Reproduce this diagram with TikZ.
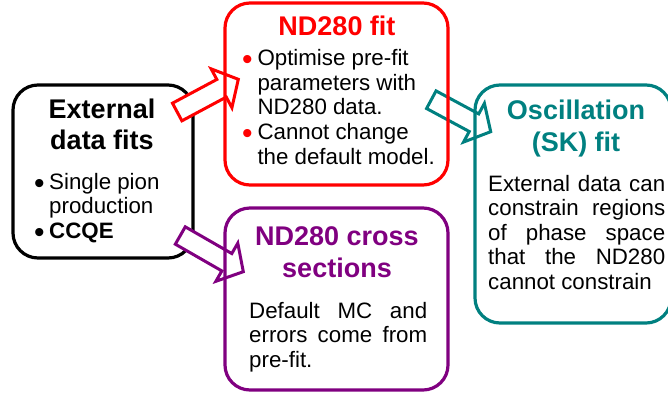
\documentclass[tikz,border=0pt]{standalone}
\usepackage{fontspec}
\setmainfont{Liberation Sans}
\usetikzlibrary{calc}
\definecolor{tealc}{RGB}{0,128,128}
\definecolor{purc}{RGB}{128,0,128}
\definecolor{redc}{RGB}{255,0,0}
\newcommand\hfnt{\fontsize{27}{31.5}\selectfont\bfseries}
\newcommand\bfnt{\fontsize{22.3}{24.5}\selectfont}
\newcommand\bulfnt{\fontsize{30}{30}\selectfont}
% block arrow from tail #2 to tip #3
\newcommand\blockarrow[3]{%
  \draw[barr=#1] ($(#2)!10pt!90:(#3)$)
    -- ($(#3)!19pt!(#2)!10pt!-90:(#2)$)
    -- ($(#3)!19pt!(#2)!22pt!-90:(#2)$)
    -- (#3)
    -- ($(#3)!19pt!(#2)!22pt!90:(#2)$)
    -- ($(#3)!19pt!(#2)!10pt!90:(#2)$)
    -- ($(#2)!10pt!-90:(#3)$) -- cycle;}
\begin{document}
\begin{tikzpicture}[x=1pt,y=-1pt,
  bx/.style={draw=#1, line width=3.2pt, rounded corners=25pt, inner sep=0pt},
  barr/.style={draw=#1, fill=white, line width=3pt, line join=miter},
  hd/.style={font=\hfnt, text=#1, align=center, anchor=base, inner sep=0pt},
  bdy/.style={font=\bfnt, align=left, anchor=base west, inner sep=0pt},
  bul/.style={font=\bulfnt, text=#1, anchor=base, inner sep=0pt}]
\useasboundingbox (0,0) rectangle (668,394);
\clip (0,0) rectangle (668,394);

% External data fits box
\node[bx=black, fill=white, minimum width=180pt, minimum height=173pt] (ext) at (103,171.5) {};

% arrows
\coordinate (rt) at (177.2,112);
\coordinate (rp) at (238.3,79.3);
\coordinate (pt) at (180.3,235.5);
\coordinate (pp) at (243.3,271.7);
\coordinate (tt) at (431.3,99.7);
\coordinate (tp) at (490.7,131.7);
\blockarrow{redc}{rt}{rp}
\blockarrow{purc}{pt}{pp}
\blockarrow{tealc}{tt}{tp}

% other boxes
\node[bx=redc, minimum width=223pt, minimum height=182pt] (fit) at (336.5,94) {};
\node[bx=purc, minimum width=223pt, minimum height=182pt] (xs) at (336.5,299) {};
\node[bx=tealc, minimum width=196pt, minimum height=238pt] (osc) at (573,204) {};

% (multi-line nodes: base anchor = baseline of last line)
% External text
\node[hd=black] (exth) at (102,149.5) {External\\data fits};
\node[bul=black] (eb1) at (39.3,193) {•};
\node[bdy] (et1) at (49,213.5) {Single pion\\production};
\node[bul=black] (eb2) at (39.3,242) {•};
\node[bdy, font=\bfnt\bfseries] (et2) at (49,238) {CCQE};

% ND280 fit text
\node[hd=redc] (fith) at (337,35) {ND280 fit};
\node[bul=redc] (fb1) at (247.3,69) {•};
\node[bdy] (ft1) at (257.3,114.5) {Optimise pre-fit\\parameters with\\ND280 data.};
\node[bul=redc] (fb2) at (247.3,143.5) {•};
\node[bdy] (ft2) at (257.3,164) {Cannot change\\the default model.};

% ND280 cross sections text
\node[hd=purc] (xsh) at (337,277) {ND280 cross\\sections};
\node[bdy] (xst) at (249,367) {\makebox[178pt][s]{Default MC and}\\\makebox[178pt][s]{errors come from}\\pre-fit.};

% Oscillation text
\node[hd=tealc] (osch) at (576,151) {Oscillation\\(SK) fit};
\node[bdy] (osct) at (488,289) {\makebox[177pt][s]{External data can}\\\makebox[177pt][s]{constrain regions}\\\makebox[177pt][s]{of phase space}\\\makebox[177pt][s]{that the ND280}\\cannot constrain};
\end{tikzpicture}
\end{document}
